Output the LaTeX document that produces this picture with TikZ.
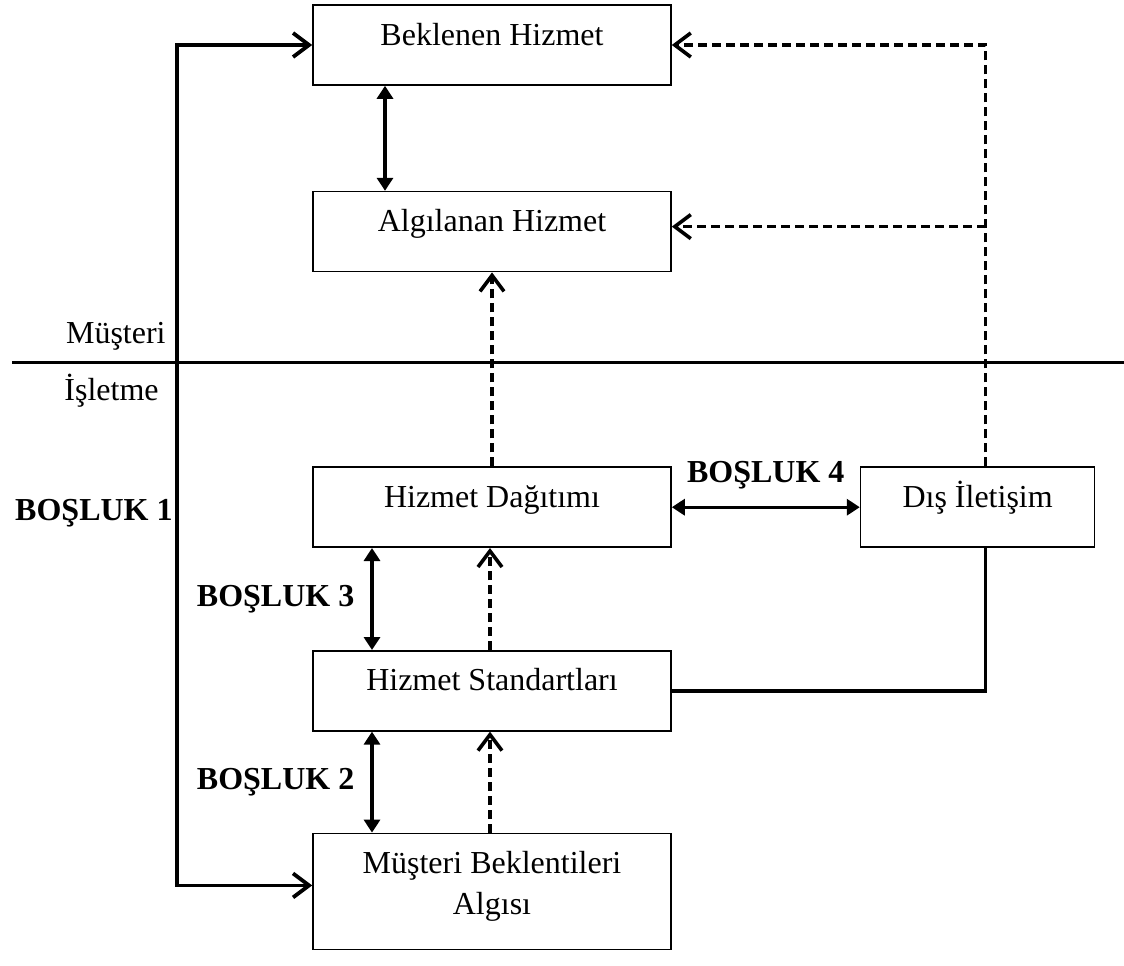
\documentclass[tikz,border=0pt]{standalone}
\usepackage{fontspec}
\setmainfont{Liberation Serif}
\usetikzlibrary{
    positioning,
    arrows.meta
}

\begin{document}
\begin{tikzpicture}[x=0.5pt,y=-0.5pt,
service node/.style={draw,line width=0.8pt,minimum width=179pt,inner xsep=0pt,inner ysep=0pt,text height=20pt,text depth=20pt,font=\fontsize{16}{20.5}\selectfont},
gap label/.style={inner sep=0pt,font=\fontsize{16}{18}\selectfont\bfseries},
side label/.style={inner sep=0pt,font=\fontsize{16}{18}\selectfont},
gap arrow/.style={{Triangle[length=6.5pt,width=8pt]}-{Triangle[length=6.5pt,width=8pt]},line width=1.7pt},
side arrow/.style={{Straight Barb[length=8pt,width=12pt]}-{Straight Barb[length=8pt,width=12pt]},line width=1.9pt},
flow arrow/.style={-{Straight Barb[length=8pt,width=12pt]},line width=1.8pt,dash pattern=on 4.5pt off 2.5pt}]

\useasboundingbox (0,0) rectangle (1124,965);

%Customer side
\node[service node] (bh) at (492,45) {Beklenen Hizmet};
\node[service node] (ah) [below=52.5pt of bh] {Algılanan Hizmet};

%Company side
\node[service node] (hd) [below=97pt of ah] {Hizmet Dağıtımı};
\node[service node] (hs) [below=51pt of hd] {Hizmet Standartları};
\node[service node,text height=40.5pt,text depth=17.5pt,align=center] (mba) [below=50.5pt of hs] {Müşteri Beklentileri\\Algısı};
\node[service node,minimum width=117pt] (dis) [right=94pt of hd] {Dış İletişim};

%Divider
\coordinate (divl) at (12,362);
\coordinate (divr) at (1124,362);
\draw[line width=1.5pt] (divl) -- (divr);
\node[side label,anchor=base east] (mus) at (166,343) {Müşteri};
\node[side label,anchor=base east] (isl) at (159,400) {İşletme};

\coordinate (g1) at (177,513);
\coordinate (comm) at ([xshift=4pt]dis.north);

%Paths
\draw[side arrow] (bh.west) -| (g1) |- ([yshift=3pt]mba.west);
\node[gap label,left=2pt of g1] (b1) {BOŞLUK 1};

\draw[gap arrow] ([xshift=-53.5pt]bh.south) -- ([xshift=-53.5pt]ah.north);
\draw[gap arrow] ([xshift=-60pt]hd.south) -- node[gap label,left=8pt] (b3) {BOŞLUK 3} ([xshift=-60pt]hs.north);
\draw[gap arrow] ([xshift=-60pt]hs.south) -- node[gap label,left=8pt] (b2) {BOŞLUK 2} ([xshift=-60pt]mba.north);
\draw[gap arrow] (hd.east) -- node[gap label,above=8pt] (b4) {BOŞLUK 4} (hd.east -| dis.west);

\draw[flow arrow] (hd.north) -- (ah.south);
\draw[flow arrow] ([xshift=-1pt]hs.north) -- ([xshift=-1pt]hd.south);
\draw[flow arrow] ([xshift=-1pt]mba.north) -- ([xshift=-1pt]hs.south);

\draw[flow arrow] (comm) |- (bh.east);
\draw[flow arrow] ([yshift=2.5pt]ah.east -| comm) -- ([yshift=2.5pt]ah.east);
\draw[line width=1.7pt] ([xshift=4pt]dis.south) |- (hs.east);
\end{tikzpicture}
\end{document}
